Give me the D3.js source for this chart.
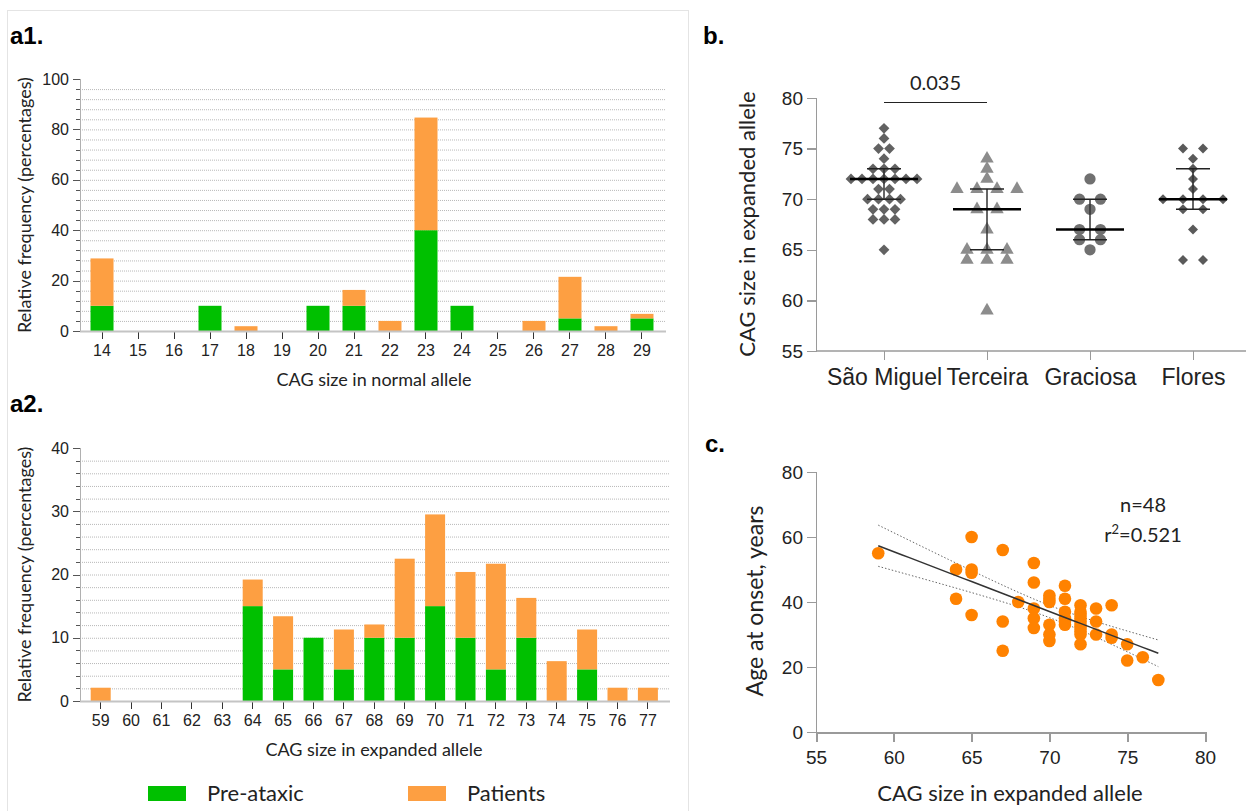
<!DOCTYPE html>
<html lang="en">
<head>
<meta charset="utf-8">
<title>CAG repeat sizes</title>
<script src="https://cdn.jsdelivr.net/npm/d3@7"></script>
<style>
  body { margin: 0; background: #fff; }
  svg { font-family: Lato, "Open Sans", sans-serif; }
  .axis path, .axis line { fill: none; shape-rendering: crispEdges; }
  .panel-label { font-family: "Liberation Sans", Arial, sans-serif; font-weight: bold; font-size: 24px; }
</style>
</head>
<body>
<svg id="fig" width="1259" height="811"></svg>
<script>
// ---- data ----
// a1: normal allele
var normalSizes = [14, 15, 16, 17, 18, 19, 20, 21, 22, 23, 24, 25, 26, 27, 28, 29];
var normalPre   = [10, 0, 0, 10, 0, 0, 10, 10, 0, 40, 10, 0, 0, 5, 0, 5];
var normalPat   = [18.8, 0, 0, 0, 1.9, 0, 0, 6.3, 4, 44.7, 0, 0, 4, 16.5, 1.9, 1.8];
// a2: expanded allele
var expSizes = [59, 60, 61, 62, 63, 64, 65, 66, 67, 68, 69, 70, 71, 72, 73, 74, 75, 76, 77];
var expPre   = [0, 0, 0, 0, 0, 15, 5, 10, 5, 10, 10, 15, 10, 5, 10, 0, 5, 0, 0];
var expPat   = [2.1, 0, 0, 0, 0, 4.2, 8.4, 0, 6.3, 2.1, 12.5, 14.5, 10.4, 16.7, 6.3, 6.3, 6.3, 2.1, 2.1];
var seriesNames = ["Pre-ataxic", "Patients"];

// b: CAG size per island
var islands = ["São Miguel", "Terceira", "Graciosa", "Flores"];
var saoMiguel = [77, 76, 75, 75, 74, 73, 73, 73, 72, 72, 72, 72, 72, 72, 72, 71, 71,
                 70, 70, 70, 70, 69, 69, 69, 68, 68, 68, 65];
var terceira  = [74, 73, 72, 71, 71, 71, 71, 69, 69, 67, 65, 65, 65, 64, 64, 64, 59];
var graciosa  = [72, 70, 70, 69, 67, 67, 66, 66, 65];
var flores    = [75, 75, 74, 73, 72, 71, 70, 70, 70, 70, 69, 69, 67, 64, 64];
var medians   = [72, 69, 67, 70];
var q1        = [70, 65, 66, 69];
var q3        = [73, 71, 70, 73];
var pLabel = "0.035";

// c: age at onset vs CAG size
var cagSize = [59, 64, 64, 65, 65, 65, 65, 67, 67, 67, 68,
               69, 69, 69, 69, 69, 70, 70, 70, 70, 70, 70,
               71, 71, 71, 71, 71, 71, 72, 72, 72, 72, 72, 72, 72, 72, 72, 72,
               73, 73, 73, 74, 74, 74, 75, 75, 76, 77];
var onsetAge = [55, 50, 41, 60, 50, 49, 36, 56, 34, 25, 40,
                52, 46, 38, 35, 32, 42, 41, 40, 33, 30, 28,
                45, 41, 37, 35, 34, 33, 39, 37, 36, 35, 34, 33, 32, 31, 30, 27,
                38, 34, 30, 39, 30, 29, 27, 22, 23, 16];

var green = "#00c000", orange = "#fd9f42", dotOrange = "#ff8200";
var svg = d3.select("#fig");

// panel frame round a1/a2
svg.append("rect").attr("x", 7.5).attr("y", 10.5).attr("width", 681).attr("height", 805)
   .attr("fill", "none").attr("stroke", "#e4e4e4");

function barPanel(sizes, pre, pat, yMax, major, minor, top, bottom, xTitle, gridEnd, pi, po, rangeEnd) {
    var x = d3.scaleBand().domain(sizes).range([80, rangeEnd]).paddingInner(pi).paddingOuter(po);
    var y = d3.scaleLinear().domain([0, yMax]).range([bottom, top]);
    var g = svg.append("g");
    // dotted grid
    g.selectAll("line.grid").data(d3.range(minor, yMax, minor)).enter().append("line")
     .attr("x1", 82).attr("x2", gridEnd)
     .attr("y1", function(d){ return y(d) + 0.5; }).attr("y2", function(d){ return y(d) + 0.5; })
     .attr("stroke", "#b8b8b8").attr("stroke-dasharray", "1,1");
    // stacked bars
    g.selectAll("rect.pre").data(sizes).enter().append("rect")
     .attr("x", function(d){ return x(d); }).attr("width", x.bandwidth())
     .attr("y", function(d, i){ return y(pre[i]); })
     .attr("height", function(d, i){ return bottom - y(pre[i]); })
     .attr("fill", green);
    g.selectAll("rect.pat").data(sizes).enter().append("rect")
     .attr("x", function(d){ return x(d); }).attr("width", x.bandwidth())
     .attr("y", function(d, i){ return y(pre[i] + pat[i]); })
     .attr("height", function(d, i){ return y(pre[i]) - y(pre[i] + pat[i]); })
     .attr("fill", orange);
    // y axis, minor ticks then major
    g.append("g").attr("class", "axis").attr("transform", "translate(80,0)")
     .call(d3.axisLeft(y).tickValues(d3.range(0, yMax + 0.1, minor)).tickSize(4).tickFormat(""))
     .call(function(s){ s.select(".domain").remove(); s.selectAll("line").attr("stroke", "#555"); });
    var ya = g.append("g").attr("class", "axis").attr("transform", "translate(80,0)")
     .call(d3.axisLeft(y).tickValues(d3.range(0, yMax + 0.1, major)).tickSize(7).tickPadding(4));
    ya.select(".domain").attr("stroke", "#b0b0b0");
    ya.selectAll("line").attr("stroke", "#555");
    ya.selectAll("text").attr("font-size", 16).attr("fill", "#222");
    // x axis
    var xa = g.append("g").attr("class", "axis").attr("transform", "translate(0," + bottom + ")")
     .call(d3.axisBottom(x).tickSizeOuter(0).tickSize(8).tickPadding(6));
    xa.select(".domain").remove();
    xa.selectAll("line").attr("stroke", "#333");
    xa.selectAll("text").attr("font-size", 16).attr("fill", "#222");
    g.append("line").attr("x1", 80).attr("x2", gridEnd).attr("y1", bottom + 0.5).attr("y2", bottom + 0.5)
     .attr("stroke", "#c4c4c4").attr("stroke-width", 2);
    g.append("text").attr("x", 374).attr("y", bottom + 55).attr("text-anchor", "middle")
     .attr("font-size", 18).attr("fill", "#222").text(xTitle);
    g.append("text").attr("transform", "translate(31," + ((top + bottom) / 2) + ") rotate(-90)")
     .attr("text-anchor", "middle").attr("font-size", 18).attr("fill", "#222")
     .text("Relative frequency (percentages)");
}

barPanel(normalSizes, normalPre, normalPat, 100, 20, 4, 79, 331, "CAG size in normal allele", 666, 0.361, 0.292, 664);
barPanel(expSizes, expPre, expPat, 40, 10, 2, 448, 701, "CAG size in expanded allele", 670, 0.342, 0.352, 668.6);

svg.append("text").attr("class", "panel-label").attr("x", 10).attr("y", 44).text("a1.");
svg.append("text").attr("class", "panel-label").attr("x", 10).attr("y", 412).text("a2.");
svg.append("text").attr("class", "panel-label").attr("x", 703).attr("y", 44).text("b.");
svg.append("text").attr("class", "panel-label").attr("x", 705).attr("y", 452).text("c.");

// legend
var leg = svg.append("g").selectAll("g").data(seriesNames).enter().append("g")
   .attr("transform", function(d, i){ return "translate(" + (148 + i * 260) + ",786)"; });
leg.append("rect").attr("width", 38).attr("height", 15)
   .attr("fill", function(d, i){ return i === 0 ? green : orange; });
leg.append("text").attr("x", 59).attr("y", 15).attr("font-size", 22).attr("fill", "#222")
   .text(function(d){ return d; });

// ---- panel b ----
var bx = d3.scalePoint().domain(islands).range([884, 1193]);
var by = d3.scaleLinear().domain([55, 80]).range([351, 98]);
var bg = svg.append("g");
var bya = bg.append("g").attr("class", "axis").attr("transform", "translate(816,0)")
   .call(d3.axisLeft(by).tickValues([55, 60, 65, 70, 75, 80]).tickSize(9).tickPadding(4));
bya.selectAll("path, line").attr("stroke", "#9a9a9a").attr("stroke-width", 1.5);
bya.selectAll("text").attr("font-size", 19).attr("fill", "#222");
bg.append("line").attr("x1", 816).attr("x2", 1246).attr("y1", 351).attr("y2", 351)
   .attr("stroke", "#9a9a9a").attr("stroke-width", 1.5);
var bxa = bg.append("g").attr("class", "axis").attr("transform", "translate(0,351)")
   .call(d3.axisBottom(bx).tickSize(9).tickPadding(9).tickSizeOuter(0));
bxa.select(".domain").remove();
bxa.selectAll("line").attr("stroke", "#9a9a9a").attr("stroke-width", 1.5);
bxa.selectAll("text").attr("font-size", 23).attr("fill", "#222");
bg.append("text").attr("transform", "translate(755,224) rotate(-90)").attr("text-anchor", "middle")
   .attr("font-size", 22).attr("fill", "#222").text("CAG size in expanded allele");

var groups = [
  { vals: saoMiguel, sym: d3.symbolSquare, size: 58, rot: 45, color: "#626262", gap: 11 },
  { vals: terceira,  sym: d3.symbolTriangle, size: 78, rot: 0, color: "#8c8c8c", gap: 20 },
  { vals: graciosa,  sym: d3.symbolCircle, size: 100, rot: 0, color: "#707070", gap: 21 },
  { vals: flores,    sym: d3.symbolSquare, size: 50, rot: 45, color: "#5a5a5a", gap: 20 }
];
groups.forEach(function(gr, gi) {
    var cx = bx(islands[gi]);
    var rows = d3.group(gr.vals, function(v){ return v; });
    var pts = [];
    rows.forEach(function(list, v) {
        list.forEach(function(_, i) { pts.push({ v: v, off: (i - (list.length - 1) / 2) * gr.gap }); });
    });
    bg.selectAll(null).data(pts).enter().append("path")
      .attr("d", d3.symbol().type(gr.sym).size(gr.size))
      .attr("transform", function(d){ return "translate(" + (cx + d.off) + "," + by(d.v) + ") rotate(" + gr.rot + ")"; })
      .attr("fill", gr.color);
    // median and interquartile range
    bg.append("line").attr("x1", cx).attr("x2", cx).attr("y1", by(q1[gi])).attr("y2", by(q3[gi]))
      .attr("stroke", "#333").attr("stroke-width", 1.5);
    [q1[gi], q3[gi]].forEach(function(q) {
        bg.append("line").attr("x1", cx - 17).attr("x2", cx + 17).attr("y1", by(q)).attr("y2", by(q))
          .attr("stroke", "#222").attr("stroke-width", 1.5);
    });
    bg.append("line").attr("x1", cx - 34).attr("x2", cx + 34).attr("y1", by(medians[gi])).attr("y2", by(medians[gi]))
      .attr("stroke", "#000").attr("stroke-width", 2.5);
});
bg.append("line").attr("x1", bx(islands[0])).attr("x2", bx(islands[1])).attr("y1", 102.5).attr("y2", 102.5)
  .attr("stroke", "#222").attr("stroke-width", 1);
bg.append("text").attr("x", (bx(islands[0]) + bx(islands[1])) / 2).attr("y", 90).attr("text-anchor", "middle")
  .attr("font-size", 20).attr("fill", "#222").text(pLabel);

// ---- panel c ----
var cx = d3.scaleLinear().domain([55, 80]).range([816, 1205]);
var cy = d3.scaleLinear().domain([0, 80]).range([732, 472]);
var cg = svg.append("g");
var cya = cg.append("g").attr("class", "axis").attr("transform", "translate(816,0)")
   .call(d3.axisLeft(cy).tickValues([0, 20, 40, 60, 80]).tickSize(9).tickPadding(4));
cya.selectAll("path, line").attr("stroke", "#9a9a9a").attr("stroke-width", 1.2);
cya.selectAll("text").attr("font-size", 19).attr("fill", "#222");
var cxa = cg.append("g").attr("class", "axis").attr("transform", "translate(0,732)")
   .call(d3.axisBottom(cx).tickValues([55, 60, 65, 70, 75, 80]).tickSize(10).tickPadding(9));
cxa.selectAll("path, line").attr("stroke", "#9a9a9a").attr("stroke-width", 2);
cxa.selectAll("text").attr("font-size", 19).attr("fill", "#222");
cg.append("text").attr("transform", "translate(763,601) rotate(-90)").attr("text-anchor", "middle")
  .attr("font-size", 23).attr("fill", "#222").text("Age at onset, years");
cg.append("text").attr("x", 1010).attr("y", 801).attr("text-anchor", "middle")
  .attr("font-size", 22).attr("fill", "#222").text("CAG size in expanded allele");

// least squares fit with 95% band
var n = cagSize.length;
var mx = d3.mean(cagSize), my = d3.mean(onsetAge);
var sxx = d3.sum(cagSize, function(v){ return (v - mx) * (v - mx); });
var sxy = d3.sum(cagSize, function(v, i){ return (v - mx) * (onsetAge[i] - my); });
var slope = sxy / sxx, icpt = my - slope * mx;
var sse = d3.sum(cagSize, function(v, i){ var e = onsetAge[i] - (icpt + slope * v); return e * e; });
var se = Math.sqrt(sse / (n - 2)), tcrit = 2.013;
var xs = d3.range(d3.min(cagSize), d3.max(cagSize) + 0.01, 0.5);
function band(sign) {
    return xs.map(function(v){
        var h = tcrit * se * Math.sqrt(1 / n + (v - mx) * (v - mx) / sxx);
        return [v, icpt + slope * v + sign * h];
    });
}
var ln = d3.line().x(function(d){ return cx(d[0]); }).y(function(d){ return cy(d[1]); });
[-1, 1].forEach(function(s) {
    cg.append("path").attr("d", ln(band(s))).attr("fill", "none")
      .attr("stroke", "#666").attr("stroke-width", 1).attr("stroke-dasharray", "1.5,2");
});
cg.selectAll("circle").data(cagSize).enter().append("circle")
  .attr("cx", function(d){ return cx(d); }).attr("cy", function(d, i){ return cy(onsetAge[i]); })
  .attr("r", 6.3).attr("fill", dotOrange);
cg.append("path").attr("d", ln(band(0))).attr("fill", "none").attr("stroke", "#333").attr("stroke-width", 1.5);

cg.append("text").attr("x", 1143).attr("y", 512).attr("text-anchor", "middle")
  .attr("font-size", 20).attr("fill", "#222").text("n=" + n);
var rt = cg.append("text").attr("x", 1143).attr("y", 542).attr("text-anchor", "middle")
  .attr("font-size", 20).attr("fill", "#222");
rt.append("tspan").text("r");
rt.append("tspan").attr("dy", -8).attr("font-size", 13).text("2");
rt.append("tspan").attr("dy", 8).text("=0.521");
</script>
</body>
</html>
